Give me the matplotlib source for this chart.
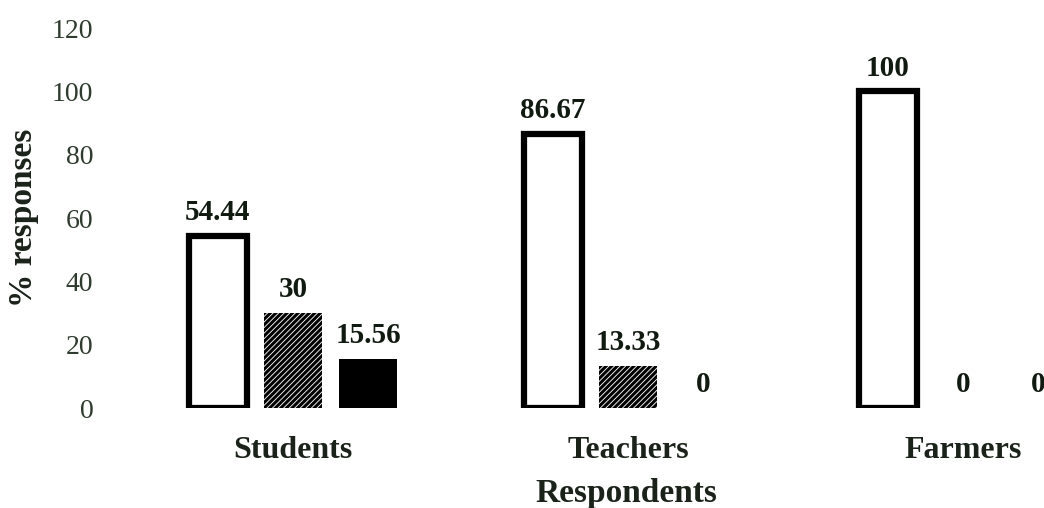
import numpy as np
import matplotlib.pyplot as plt

categories = ["Students", "Teachers", "Farmers"]
series_a = [54.44, 86.67, 100]   # open bars
series_b = [30, 13.33, 0]        # hatched bars
series_c = [15.56, 0, 0]         # solid bars
y_ticks = [0, 20, 40, 60, 80, 100, 120]

plt.rcParams['font.family'] = ['Liberation Serif', 'DejaVu Serif']
plt.rcParams['hatch.linewidth'] = 2.2

fig = plt.figure(figsize=(10.44, 5.08), dpi=100)
ax = fig.add_axes([110 / 1044, 1 - 408 / 508, 934 / 1044, 380 / 508])

x = np.arange(len(categories))
w = 0.173
off = 0.224

ax.bar(x - off, series_a, w, facecolor='white', edgecolor='black', linewidth=4.5, zorder=3)
ax.bar(x, series_b, w, facecolor='white', edgecolor='black', linewidth=0, hatch='//////', zorder=3)
ax.bar(x + off, series_c, w, facecolor='black', edgecolor='black', linewidth=0, zorder=3)

for pos, vals in [(x - off, series_a), (x, series_b), (x + off, series_c)]:
    for xi, v in zip(pos, vals):
        ax.annotate(f"{v:g}", (xi, v), xytext=(0, 7), textcoords='offset points',
                    ha='center', va='bottom', fontsize=21, fontweight='bold',
                    color='#111a11')

ax.set_xlim(-0.546, 2.242)
ax.set_ylim(0, 120)
ax.set_yticks(y_ticks)
ax.set_xticks(x)
ax.set_xticklabels(categories, fontsize=23, fontweight='bold', color='#1a221a')
ax.tick_params(axis='y', labelsize=20, labelcolor='#2e3b2e', length=0, pad=12)
ax.tick_params(axis='x', length=0, pad=20)
for s in ax.spines.values():
    s.set_visible(False)

ax.set_ylabel("% responses", fontsize=24, fontweight='bold', color='#1a221a')
ax.yaxis.set_label_coords(-0.076, 0.5)
ax.set_xlabel("Respondents", fontsize=24, fontweight='bold', color='#1a221a')
ax.xaxis.set_label_coords(0.553, -0.185)

fig.savefig("out.png", dpi=100)
